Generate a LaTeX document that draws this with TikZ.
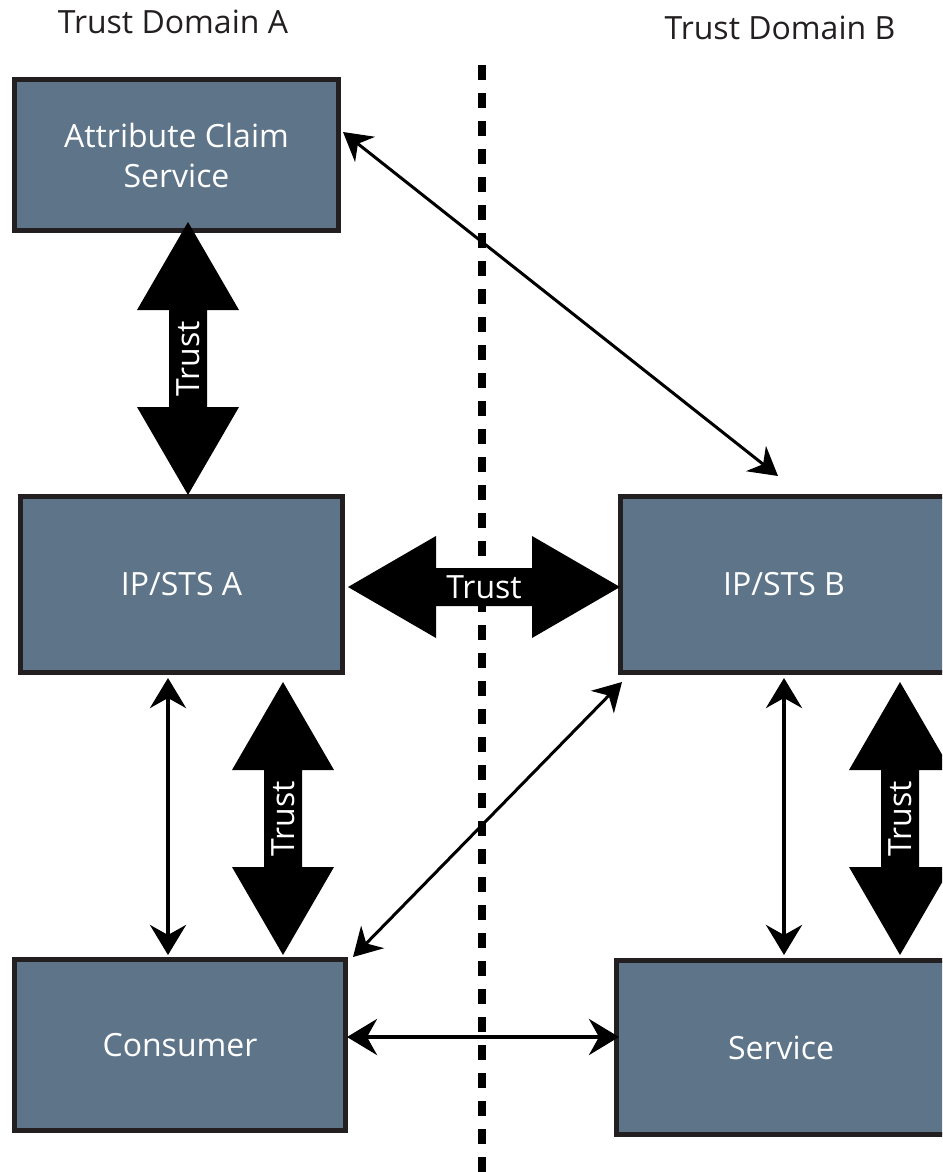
\documentclass[tikz,border=0pt]{standalone}
\usepackage{fontspec}
\setmainfont{Open Sans}
\usetikzlibrary{arrows.meta,calc}
\definecolor{boxfill}{HTML}{5E7489}
\definecolor{boxline}{HTML}{231F20}
\newcommand{\BigArrow}[4]{%
  \coordinate (#1h1) at ($(#2)!88pt!(#3)$);
  \coordinate (#1h2) at ($(#3)!88pt!(#2)$);
  \fill[black] (#2) -- ($(#1h1)!51pt!90:(#3)$) -- ($(#1h1)!19pt!90:(#3)$)
    -- ($(#1h2)!19pt!-90:(#2)$) -- ($(#1h2)!51pt!-90:(#2)$) -- (#3)
    -- ($(#1h2)!51pt!90:(#2)$) -- ($(#1h2)!19pt!90:(#2)$)
    -- ($(#1h1)!19pt!-90:(#3)$) -- ($(#1h1)!51pt!-90:(#3)$) -- cycle;
  \node[trusttext, rotate=#4] (#1) at ($(#2)!0.5!(#3)$) {Trust};
}
\begin{document}
\begin{tikzpicture}[x=1pt,y=-1pt,
  box/.style={draw=boxline, line width=5pt, fill=boxfill, text=white,
    font=\fontsize{32}{40}\selectfont, align=center, inner sep=0pt},
  trusttext/.style={text=white, font=\fontsize{32}{38}\selectfont, inner sep=0pt},
  domlabel/.style={text=boxline, font=\fontsize{32}{38}\selectfont, inner sep=0pt, anchor=base},
  linkarrow/.style={line width=4pt, {Stealth[length=30pt,width=36pt,inset=10pt]}-{Stealth[length=30pt,width=36pt,inset=10pt]}},
  diagarrow/.style={line width=3pt, {Stealth[length=28pt,width=32pt,inset=9pt]}-{Stealth[length=28pt,width=32pt,inset=9pt]}},
  divider/.style={line width=8pt, dash pattern=on 15pt off 13pt}
]
\useasboundingbox (0,0) rectangle (942,1172);
\clip (0,0) rectangle (942,1172);

% domain labels
\node[domlabel] (doma) at (173,34) {Trust Domain A};
\node[domlabel] (domb) at (780,40) {Trust Domain B};

% divider
\coordinate (dtop) at (482,65);
\coordinate (dbot) at (482,1190);
\draw[divider] (dtop) -- (dbot);

% boxes
\node[box, minimum width=324pt, minimum height=151pt] (acs) at (176.5,155) {Attribute Claim\\Service};
\node[box, minimum width=322pt, minimum height=176pt] (ipa) at (181.5,584.5) {IP/STS A};
\node[box, minimum width=327pt, minimum height=176pt] (ipb) at (784,584.5) {IP/STS B};
\node[box, minimum width=331pt, minimum height=171pt] (cons) at (180,1045) {Consumer};
\node[box, minimum width=329.5pt, minimum height=174pt] (serv) at (781,1047.5) {Service};

% big trust arrows
\coordinate (a1s) at (188,222);  \coordinate (a1e) at (188,495);
\coordinate (a2s) at (348,587);  \coordinate (a2e) at (620,587);
\coordinate (a3s) at (283,682);  \coordinate (a3e) at (283,955);
\coordinate (a4s) at (900,682);  \coordinate (a4e) at (900,955);
\BigArrow{tr1}{a1s}{a1e}{90}
\BigArrow{tr2}{a2s}{a2e}{0}
\BigArrow{tr3}{a3s}{a3e}{90}
\BigArrow{tr4}{a4s}{a4e}{90}

% thin links
\coordinate (t1s) at (343,132);  \coordinate (t1e) at (778,476);
\coordinate (t2s) at (168,678);  \coordinate (t2e) at (168,955);
\coordinate (t3s) at (784,678);  \coordinate (t3e) at (784,955);
\coordinate (t4s) at (353,957);  \coordinate (t4e) at (622,682);
\coordinate (t5s) at (347,1037); \coordinate (t5e) at (619,1037);
\draw[diagarrow] (t1s) -- (t1e);
\draw[linkarrow] (t2s) -- (t2e);
\draw[linkarrow] (t3s) -- (t3e);
\draw[diagarrow] (t4s) -- (t4e);
\draw[linkarrow] (t5s) -- (t5e);
\end{tikzpicture}
\end{document}
